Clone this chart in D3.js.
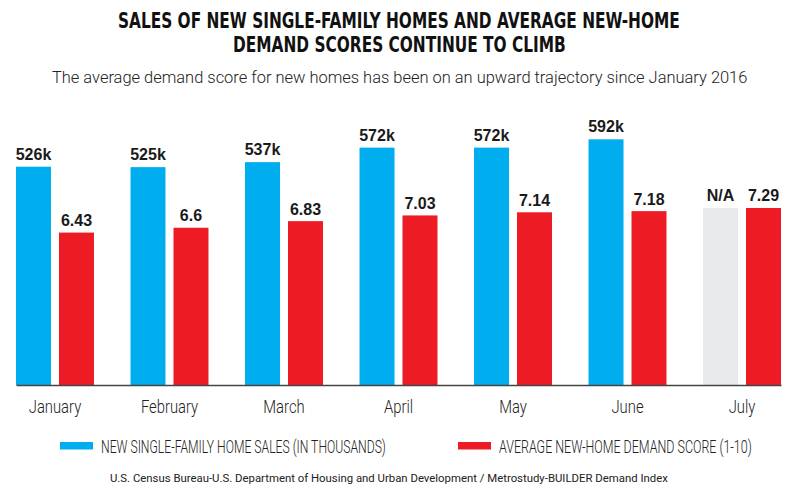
<!DOCTYPE html>
<html>
<head>
<meta charset="utf-8">
<script src="https://cdn.jsdelivr.net/npm/d3@7"></script>
<style>
  body { margin: 0; background: #fff; }
  svg { display: block; }
  .cond { font-family: "DejaVu Sans Condensed", "DejaVu Sans", sans-serif; }
  .light { font-family: Roboto, "Open Sans", sans-serif; font-weight: 300; }
  .val { font-family: "Liberation Sans", Arial, sans-serif; font-weight: bold; font-size: 16px; fill: #1a1a1a; }
</style>
</head>
<body>
<svg id="chart" width="799" height="494"></svg>
<script>
// values
const months = ["January", "February", "March", "April", "May", "June", "July"]
const sales = [526, 525, 537, 572, 572, 592, null]   // thousands, July not available
const scores = [6.43, 6.6, 6.83, 7.03, 7.14, 7.18, 7.29]
const seriesKeys = ["sales", "score"]
const legendLabels = ["NEW SINGLE-FAMILY HOME SALES (IN THOUSANDS)", "AVERAGE NEW-HOME DEMAND SCORE (1-10)"]
const colors = { sales: "#00aeef", score: "#ed1c24", na: "#e8eaeb" }

const svg = d3.select("#chart")
const base = 385

// squeeze a text horizontally so it spans `w` pixels starting at x
function fitText(sel, x, y, w) {
    const natural = sel.node().getComputedTextLength()
    sel.attr("x", 0).attr("y", 0)
        .attr("transform", `translate(${x},${y}) scale(${w / natural},1)`)
}

// titles
const t1 = svg.append("text").attr("class", "cond")
    .style("font-weight", "bold").style("font-size", "21.5px").attr("fill", "#111")
    .text("SALES OF NEW SINGLE-FAMILY HOMES AND AVERAGE NEW-HOME")
fitText(t1, 118, 27.5, 562)
const t2 = svg.append("text").attr("class", "cond")
    .style("font-weight", "bold").style("font-size", "21.5px").attr("fill", "#111")
    .text("DEMAND SCORES CONTINUE TO CLIMB")
fitText(t2, 233, 51.5, 333)

const sub = svg.append("text").attr("class", "light")
    .style("font-size", "16px").attr("fill", "#222")
    .text("The average demand score for new homes has been on an upward trajectory since January 2016")
fitText(sub, 52, 83, 696)

// scales
const x0 = d3.scaleBand().domain(months).range([16, 781]).paddingInner(0.319).paddingOuter(0)
const x1 = d3.scaleBand().domain(seriesKeys).range([0, x0.bandwidth()]).paddingInner(0.186)
const ySales = d3.scaleLinear().domain([0, 600]).range([base, base - 249])
const yScore = d3.scaleLinear().domain([1.1, 10]).range([base, base - 254.5])

const rows = months.map((m, i) => ({ month: m, sales: sales[i], score: scores[i] }))
// where sales is missing the grey stand-in bar matches the score bar
const salesTop = d => d.sales != null ? ySales(d.sales) : yScore(d.score)

const groups = svg.append("g").selectAll("g")
    .data(rows)
    .join("g")
    .attr("transform", d => `translate(${x0(d.month)},0)`)

groups.append("rect")
    .attr("x", x1("sales"))
    .attr("width", x1.bandwidth())
    .attr("y", salesTop)
    .attr("height", d => base - salesTop(d))
    .attr("fill", d => d.sales != null ? colors.sales : colors.na)

groups.append("rect")
    .attr("x", x1("score"))
    .attr("width", x1.bandwidth())
    .attr("y", d => yScore(d.score))
    .attr("height", d => base - yScore(d.score))
    .attr("fill", colors.score)

groups.append("text")
    .attr("class", "val")
    .attr("text-anchor", "middle")
    .attr("x", x1("sales") + x1.bandwidth() / 2)
    .attr("y", d => salesTop(d) - 7)
    .text(d => d.sales != null ? d.sales + "k" : "N/A")

groups.append("text")
    .attr("class", "val")
    .attr("text-anchor", "middle")
    .attr("x", x1("score") + x1.bandwidth() / 2)
    .attr("y", d => yScore(d.score) - 6.5)
    .text(d => d.score)

// axis
const axis = svg.append("g")
    .attr("transform", `translate(0,${base})`)
    .call(d3.axisBottom(x0).tickSize(0).tickSizeOuter(0))
axis.select(".domain").attr("stroke", "#444").attr("stroke-width", 1.6)
axis.selectAll(".tick text")
    .attr("class", "light")
    .attr("y", 28).attr("dy", 0)
    .attr("transform", "scale(0.8,1)")
    .style("font-size", "18.5px").style("font-weight", 300).attr("fill", "#222")

// legend
const legendX = [60, 458]
const legendW = [285, 253]
const legend = svg.append("g").selectAll("g")
    .data(seriesKeys)
    .join("g")
    .attr("transform", (d, i) => `translate(${legendX[i]},0)`)
legend.append("rect")
    .attr("y", 442).attr("width", 33).attr("height", 7.5)
    .attr("fill", d => colors[d])
legend.append("text")
    .attr("class", "light")
    .style("font-size", "17.5px").attr("fill", "#222")
    .text((d, i) => legendLabels[i])
    .each(function (d, i) { fitText(d3.select(this), 41, 452.5, legendW[i]) })

const src = svg.append("text").attr("class", "light")
    .style("font-size", "10.5px").style("font-weight", 400).attr("fill", "#222")
    .text("U.S. Census Bureau-U.S. Department of Housing and Urban Development / Metrostudy-BUILDER Demand Index")
fitText(src, 110, 481.5, 558)
</script>
</body>
</html>
